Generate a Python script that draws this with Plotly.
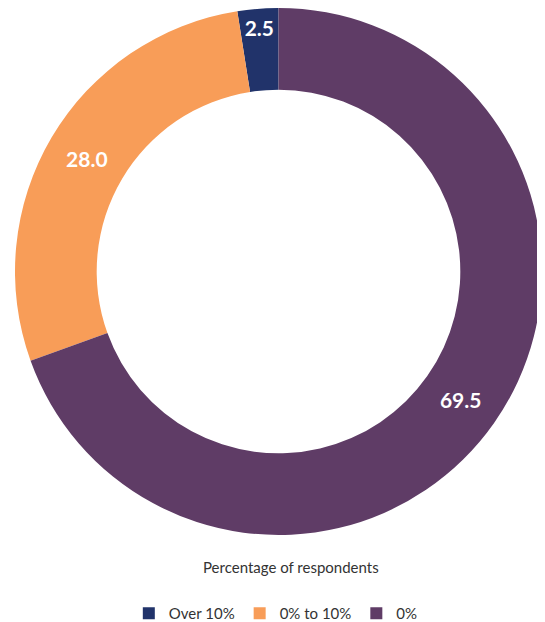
import plotly.graph_objects as go

labels = ["Over 10%", "0% to 10%", "0%"]
values = [2.5, 28.0, 69.5]
colors = ["#21336A", "#F89D58", "#5F3C66"]

fig = go.Figure(go.Pie(
    labels=labels,
    values=values,
    hole=0.69,
    sort=False,
    direction="counterclockwise",
    rotation=-9,
    marker=dict(colors=colors, line=dict(width=0)),
    texttemplate="%{value:.1f}",
    textposition="inside",
    insidetextorientation="horizontal",
    textfont=dict(family="Lato, Open Sans, sans-serif", size=21, color="white", weight="bold"),
    hoverinfo="label+value",
))

fig.update_layout(
    width=545,
    height=622,
    margin=dict(l=2, r=6, t=0, b=80),
    paper_bgcolor="white",
    plot_bgcolor="white",
    font=dict(family="Lato, Open Sans, sans-serif", color="#333333"),
    showlegend=True,
    legend=dict(
        orientation="h",
        x=0.495, xanchor="center",
        y=-0.15, yanchor="middle",
        font=dict(size=15, color="#333333"),
        itemwidth=30,
    ),
    annotations=[dict(
        text="Percentage of respondents",
        x=0.524, y=-0.061, xref="paper", yref="paper",
        xanchor="center", yanchor="middle",
        showarrow=False,
        font=dict(size=15, color="#333333"),
    )],
)

fig.write_html("out.html")
